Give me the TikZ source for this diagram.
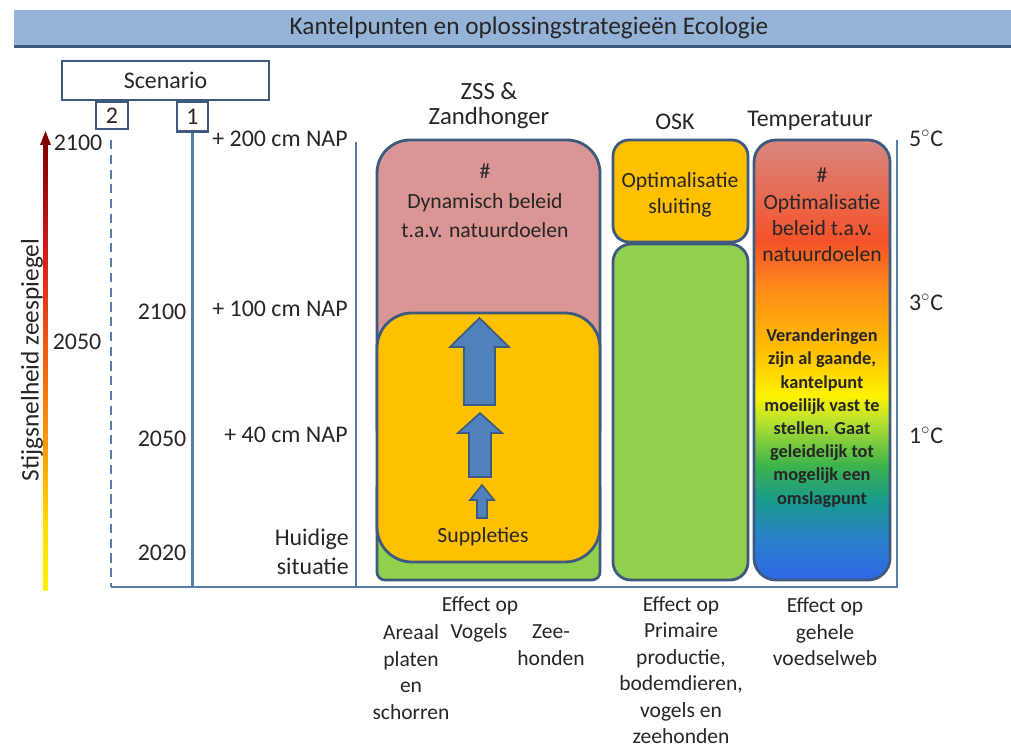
\documentclass[tikz,border=0pt]{standalone}
\usepackage{fontspec}
\setmainfont{Carlito}
\usepackage{xcolor}
\usepackage{tikz}

\definecolor{axisblue}{RGB}{90,124,170}
\definecolor{edgeblue}{RGB}{62,90,126}
\definecolor{titlefill}{RGB}{149,179,215}
\definecolor{pinkfill}{RGB}{217,150,148}
\definecolor{orangefill}{RGB}{255,192,0}
\definecolor{greenfill}{RGB}{146,208,80}
\definecolor{arrowfill}{RGB}{79,129,189}
\definecolor{textgrey}{RGB}{38,38,38}

\pgfdeclareverticalshading{tempshade}{100bp}{rgb(0bp)=(0.18,0.40,0.90); rgb(25bp)=(0.18,0.40,0.90);
  rgb(29.5bp)=(0.17,0.50,0.80); rgb(34bp)=(0.10,0.60,0.55); rgb(38bp)=(0.24,0.70,0.30);
  rgb(43bp)=(0.72,0.88,0.19); rgb(46bp)=(1,0.95,0); rgb(51bp)=(1,0.75,0);
  rgb(58bp)=(1,0.55,0.10); rgb(63.5bp)=(0.96,0.32,0.16); rgb(75bp)=(0.85,0.53,0.50);
  rgb(100bp)=(0.85,0.53,0.50)}
\pgfdeclareverticalshading{riseshade}{100bp}{rgb(0bp)=(1,0.95,0); rgb(25bp)=(1,0.95,0);
  rgb(31.5bp)=(1,0.88,0); rgb(40.5bp)=(1,0.63,0); rgb(52bp)=(0.95,0.36,0.06);
  rgb(62bp)=(0.85,0.12,0.12); rgb(75bp)=(0.50,0,0); rgb(100bp)=(0.50,0,0)}

\tikzset{
  axisline/.style={draw=axisblue, line width=1.5pt},
  labelbox/.style={draw=edgeblue, line width=1.6pt, fill=white, rectangle, inner sep=0pt},
  panel/.style={draw=edgeblue, line width=2pt},
  boxtext/.style={font=\fontsize{15.4}{18.6}\selectfont, align=center},
  effect/.style={font=\fontsize{15.3}{18.8}\selectfont, align=center},
  blockarrow/.style={fill=arrowfill, draw=edgeblue, line width=1.2pt}
}

\begin{document}
\begin{tikzpicture}[x=0.025cm, y=-0.025cm, font=\fontsize{17}{20}\selectfont, text=textgrey]
    \useasboundingbox (0,0) rectangle (1011,748);

    \node[fill=titlefill, minimum width=24.925cm, minimum height=0.9cm, inner sep=0pt] (titlebar) at (512.5,28) {};
    \draw[edgeblue, line width=2pt] (titlebar.south west) -- (titlebar.south east);
    \node[font=\fontsize{18}{20}\selectfont] (title) at (529,28) {Kantelpunten en oplossingstrategieën Ecologie};

    \node[labelbox, minimum width=5.175cm, minimum height=0.975cm] (scenario) at (165.5,80.5) {Scenario};
    \node[labelbox, minimum width=0.8cm, minimum height=0.675cm] (two) at (112,115.5) {2};
    \node[labelbox, minimum width=0.775cm, minimum height=0.75cm] (one) at (192.5,116.5) {1};

    \draw[axisline, dash pattern=on 6.5pt off 4pt] (111,140) -- (111,587);
    \draw[axisline] (one.south) -- (192.5,587);
    \draw[axisline] (356,142) -- (356,587);
    \draw[axisline] (111,587) -- (897,587) -- (897,140);

    \shade[shading=riseshade] (43.5,143) rectangle (47.5,590);
    \fill[red!50!black] (40,145) -- (45.5,131) -- (51,145) -- cycle;
    \node[rotate=90, font=\fontsize{18}{20}\selectfont] (risetitle) at (32,360) {Stijgsnelheid zeespiegel};

    \node (yrtop) at (78,143) {2100};
    \node (yrmid) at (77,342) {2050};
    \node (yr2100) at (162,312) {2100};
    \node (yr2050) at (162,439) {2050};
    \node (yr2020) at (162,553) {2020};
    \node (nap200) at (280,139) {+ 200 cm NAP};
    \node (nap100) at (280,309) {+ 100 cm NAP};
    \node (nap40) at (286,435) {+ 40 cm NAP};
    \node[align=right, anchor=east, inner sep=0pt, font=\fontsize{17}{20.6}\selectfont] (now) at (349,552) {Huidige\\situatie};

    \node[align=center, font=\fontsize{17.6}{18}\selectfont] (zsshead) at (489,106) {ZSS \&\\Zandhonger};
    \draw[panel, fill=pinkfill, rounded corners=0.825cm] (377,140) rectangle (600,460);
    \draw[panel, fill=greenfill, rounded corners=0.2cm] (377,480) rectangle (600,580);
    \draw[panel, fill=orangefill, rounded corners=0.875cm] (377,313) rectangle (600,562);
    \draw[blockarrow] (464,405) -- (464,347) -- (450,347) -- (479.5,318) -- (509,347) -- (495,347) -- (495,405) -- cycle;
    \draw[blockarrow] (469,477) -- (469,433) -- (458,433) -- (480,413) -- (502,433) -- (491,433) -- (491,477) -- cycle;
    \draw[blockarrow] (477,518) -- (477,500) -- (470,500) -- (482,485) -- (494,500) -- (487,500) -- (487,518) -- cycle;
    \node[boxtext, font=\fontsize{15.4}{21}\selectfont] (zsstext) at (485,201) {\#\\Dynamisch beleid\\t.a.v. natuurdoelen};
    \node[boxtext] (suppl) at (483,537) {Suppleties};

    \node (oskhead) at (675,122) {OSK};
    \draw[panel, fill=orangefill, rounded corners=0.4cm] (613,140) rectangle (748,242);
    \draw[panel, fill=greenfill, rounded corners=0.45cm] (613,244) rectangle (748,580);
    \node[boxtext] (osktext) at (680,195) {Optimalisatie\\sluiting};

    \node (temphead) at (810,121) {Temperatuur};
    \shadedraw[panel, shading=tempshade, rounded corners=0.55cm] (754,140) rectangle (890,580);
    \node[boxtext] (temptop) at (822,215) {\#\\Optimalisatie\\beleid t.a.v.\\natuurdoelen};
    \node[align=center, font=\bfseries\fontsize{13}{16.5}\selectfont] (tempnote) at (822,418) {Veranderingen\\zijn al gaande,\\kantelpunt\\moeilijk vast te\\stellen. Gaat\\geleidelijk tot\\mogelijk een\\omslagpunt};

    \node (deg5) at (926,138) {5$^\circ$C};
    \node (deg3) at (926,302) {3$^\circ$C};
    \node (deg1) at (926,435) {1$^\circ$C};

    \node[effect] (effzss) at (480,606) {Effect op};
    \node[effect] (areaal) at (411,672) {Areaal\\platen\\en\\schorren};
    \node[effect] (vogels) at (479,633) {Vogels};
    \node[effect] (zeehond) at (551,645) {Zee-\\honden};
    \node[effect] (effosk) at (681,670) {Effect op\\Primaire\\productie,\\bodemdieren,\\vogels en\\zeehonden};
    \node[effect] (efftemp) at (825,632) {Effect op\\gehele\\voedselweb};
\end{tikzpicture}
\end{document}
